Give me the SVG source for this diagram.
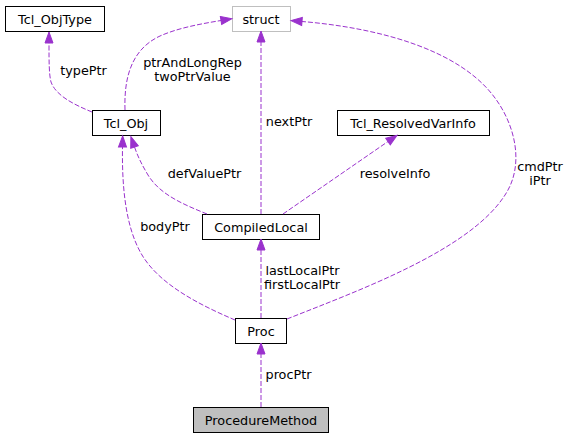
<svg xmlns="http://www.w3.org/2000/svg" width="569" height="439" viewBox="0 0 569 439">
<style>
text{font-family:"DejaVu Sans",sans-serif;font-size:12.8px;fill:#000;}
.n text{text-anchor:middle;}
.n rect{fill:#fff;stroke:#000;stroke-width:1;}
#struct rect{stroke:#bfbfbf;}
#ProcedureMethod rect{fill:#bfbfbf;}
.e path{fill:none;stroke:#9a32cd;stroke-width:1;stroke-dasharray:5,2;marker-end:url(#ah);}
.lbl{text-anchor:middle;}
</style>
<defs>
<marker id="ah" markerUnits="userSpaceOnUse" markerWidth="13" markerHeight="9" refX="0" refY="4" orient="auto" overflow="visible">
<path d="M0,0 L11,4 L0,8 Z" fill="#9a32cd" stroke="#9a32cd"/>
</marker>
</defs>
<g id="nodes">
<g id="ProcedureMethod" class="n"><rect x="193.5" y="407.5" width="135" height="25"/><text x="261" y="424.5">ProcedureMethod</text></g>
<g id="Proc" class="n"><rect x="235.5" y="318.5" width="51" height="25"/><text x="261" y="335.5">Proc</text></g>
<g id="CompiledLocal" class="n"><rect x="202.5" y="214.5" width="117" height="25"/><text x="261" y="231.5">CompiledLocal</text></g>
<g id="Tcl_Obj" class="n"><rect x="92.5" y="110.5" width="68" height="25"/><text x="126" y="127.5">Tcl_Obj</text></g>
<g id="Tcl_ObjType" class="n"><rect x="5.5" y="6.5" width="99" height="25"/><text x="55" y="23.5">Tcl_ObjType</text></g>
<g id="struct" class="n"><rect x="232.5" y="6.5" width="58" height="25"/><text x="261" y="23.5">struct</text></g>
<g id="Tcl_ResolvedVarInfo" class="n"><rect x="337.5" y="110.5" width="152" height="25"/><text x="413" y="127.5">Tcl_ResolvedVarInfo</text></g>
</g>
<g id="edges" class="e">
<path d="M261,407 L261,354"/>
<path d="M261,318 L261,250"/>
<path d="M261,214 L261,42"/>
<path d="M283,214 L388,141.5"/>
<path d="M207,214 C185,205 160,195 148,175 C142,165 138,157 134.5,147"/>
<path d="M235,320 C200,305 160,285 142,255 C124,225 122,180 122.5,147"/>
<path d="M92,112 C75,105 56,96 51,82 C49,74 49,62 49,43"/>
<path d="M125,110 C124,80 130,50 160,36 C178,28 200,24 221,20.5"/>
<path d="M287,319 C360,290 470,250 505,195 C525,165 515,125 495,98 C460,50 380,28 302,21.5"/>
</g>
<g id="labels">
<text class="lbl" x="288.5" y="379">procPtr</text>
<text class="lbl" x="302.5" y="275">lastLocalPtr</text>
<text class="lbl" x="302" y="289">firstLocalPtr</text>
<text class="lbl" x="289" y="126">nextPtr</text>
<text class="lbl" x="395" y="178">resolveInfo</text>
<text class="lbl" x="204.5" y="178">defValuePtr</text>
<text class="lbl" x="165" y="231">bodyPtr</text>
<text class="lbl" x="83.5" y="75">typePtr</text>
<text class="lbl" x="192.5" y="67">ptrAndLongRep</text>
<text class="lbl" x="192.5" y="81">twoPtrValue</text>
<text class="lbl" x="540" y="171">cmdPtr</text>
<text class="lbl" x="540" y="185">iPtr</text>
</g>
</svg>
